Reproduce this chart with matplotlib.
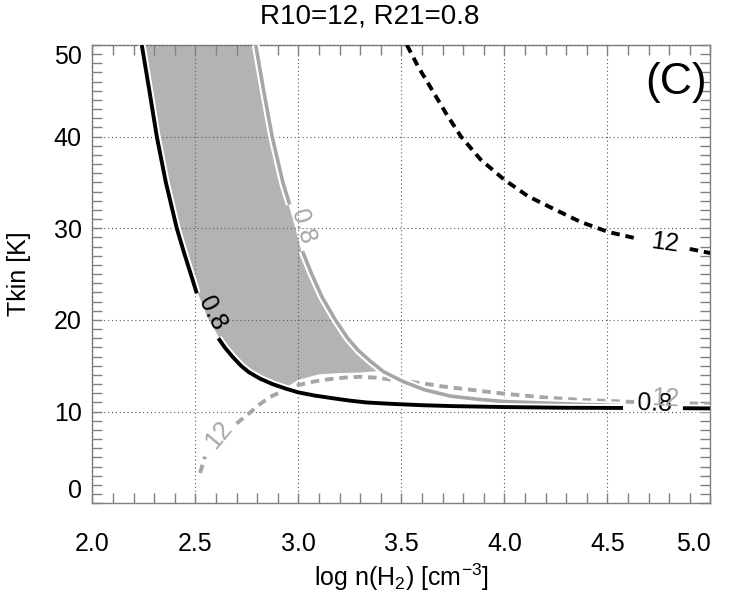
import numpy as np
import matplotlib.pyplot as plt
import matplotlib.patheffects as pe
from matplotlib.ticker import MultipleLocator

plt.rcParams['font.family'] = ['Liberation Sans', 'DejaVu Sans']
plt.rcParams['mathtext.fontset'] = 'custom'
plt.rcParams['mathtext.rm'] = 'Liberation Sans'
plt.rcParams['mathtext.default'] = 'regular'

# R21 = 0.8 contour (black solid), log n(H2) vs Tkin
r21_blk_x = [2.24, 2.277, 2.313, 2.357, 2.41, 2.443, 2.478, 2.507, 2.555, 2.612, 2.643,
             2.68, 2.722, 2.76, 2.814, 2.875, 2.94, 3.0, 3.08, 3.17, 3.25, 3.33, 3.45,
             3.6, 3.75, 4.0, 4.3, 4.576, 4.72, 4.867, 5.0]
r21_blk_y = [50, 45, 40, 35, 30, 27.5, 25, 22.9, 20.2, 18.0, 17.0,
             16.0, 15.0, 14.3, 13.6, 13.0, 12.5, 12.1, 11.75, 11.45, 11.2, 11.0, 10.85,
             10.7, 10.6, 10.5, 10.42, 10.4, 10.38, 10.37, 10.35]

# R21 = 0.8 contour (grey solid)
r21_gry_x = [2.793, 2.832, 2.873, 2.925, 2.958, 2.99, 3.02, 3.065, 3.115, 3.18, 3.24,
             3.29, 3.35, 3.413, 3.51, 3.61, 3.737, 3.87, 4.0, 4.3, 4.57]
r21_gry_y = [50, 45, 40, 35, 32.6, 30.1, 27.5, 25, 22.5, 20, 18,
             16.7, 15.5, 14.36, 13.27, 12.4, 11.7, 11.35, 11.1, 10.85, 10.65]

# R10 = 12 contour (black dashed)
r10_blk_x = [3.527, 3.585, 3.652, 3.718, 3.79, 3.885, 4.0, 4.115, 4.25, 4.37, 4.505,
             4.65, 4.78, 4.90, 5.0]
r10_blk_y = [50, 47.5, 45, 42.5, 40, 37.5, 35.3, 33.5, 32.0, 30.7, 29.6,
             28.85, 28.3, 27.75, 27.3]

# R10 = 12 contour (grey dashed)
r10_gry_x = [2.523, 2.547, 2.612, 2.70, 2.75, 2.806, 2.863, 2.93, 3.0, 3.08, 3.155, 3.23,
             3.30, 3.38, 3.5, 3.6, 3.7, 3.85, 4.0, 4.22, 4.4, 4.505, 4.63, 4.78, 4.90, 5.0]
r10_gry_y = [3.3, 5.1, 7.45, 8.7, 9.6, 10.7, 11.6, 12.3, 12.9, 13.3, 13.56, 13.72,
             13.8, 13.7, 13.35, 13.1, 12.75, 12.35, 11.95, 11.5, 11.25, 11.16, 11.05, 11.0,
             10.9, 10.83]

# lower edge of the shaded solution region
fill_bot_x = [2.94, 3.0, 3.1, 3.2, 3.3, 3.413]
fill_bot_y = [12.9, 13.35, 13.95, 14.1, 14.15, 14.36]

fig = plt.figure(figsize=(7.47, 6.0), dpi=100)
ax = fig.add_axes([0.1236, 0.1612, 0.8273, 0.7638])

grey = '#a6a6a6'
halo = [pe.Stroke(linewidth=5.6, foreground='white'), pe.Normal()]

# shaded region between the two 0.8 contours, above the grey 12 contour
px = r21_blk_x[:17] + fill_bot_x[1:] + r21_gry_x[:14][::-1]
py = r21_blk_y[:17] + fill_bot_y[1:] + r21_gry_y[:14][::-1]
ax.fill(px, py, facecolor='#b3b3b3', edgecolor='white', lw=1.5, zorder=1)


def seg_plot(x, y, parts, **kw):
    for a, b in parts:
        ax.plot(x[a:b], y[a:b], solid_capstyle='butt', zorder=3, **kw)


seg_plot(r10_gry_x, r10_gry_y, [(0, 2), (3, 23), (24, None)],
         color=grey, lw=2.8, ls=(0, (2.2, 1.5)))
seg_plot(r10_blk_x, r10_blk_y, [(0, 12), (13, None)],
         color='black', lw=2.8, ls=(0, (2.2, 1.5)))
seg_plot(r21_gry_x, r21_gry_y, [(0, 5), (6, None)],
         color=grey, lw=2.6, path_effects=halo)
seg_plot(r21_blk_x, r21_blk_y, [(0, 8), (9, 28), (29, None)],
         color='black', lw=2.8, path_effects=halo)

# contour labels
lab_kw = dict(ha='center', va='center', fontsize=18, zorder=4)
ax.text(2.58, 20.7, '0.8', rotation=-63, color='black', **lab_kw)
ax.text(3.02, 30.2, '0.8', rotation=-73, color=grey, **lab_kw)
ax.text(4.73, 10.9, '0.8', rotation=-2, color='black', **lab_kw)
ax.text(4.78, 11.4, '12', rotation=-3, color=grey, **lab_kw)
ax.text(4.78, 28.4, '12', rotation=-8, color='black', **lab_kw)
ax.text(2.612, 7.45, '12', rotation=50, color=grey, **lab_kw)

ax.text(4.835, 45.9, '(C)', fontsize=32, ha='center', va='center',
        color='black', zorder=4)

ax.set_xlim(2.0, 5.0)
ax.set_ylim(0, 50)
ax.set_xticks([2.0, 2.5, 3.0, 3.5, 4.0, 4.5, 5.0])
ax.set_yticks([0, 10, 20, 30, 40, 50])
ax.xaxis.set_minor_locator(MultipleLocator(0.1))
ax.yaxis.set_minor_locator(MultipleLocator(1))
ax.tick_params(which='both', direction='in', top=True, right=True,
               length=7, width=1, color='0.5', labelsize=18)
ax.tick_params(axis='x', pad=21)
ax.tick_params(axis='y', pad=7.6)
for s in ax.spines.values():
    s.set_color('0.5')
    s.set_linewidth(1)

ylabs = ax.get_yticklabels()
ylabs[0].set_va('bottom')
ylabs[-1].set_va('top')
ax.get_xticklabels()[-1].set_ha('right')

ax.set_axisbelow(False)
ax.grid(True, which='major', ls=(0, (1, 2.5)), lw=0.8, color='0.35')

ax.set_xlabel('log n(H$_2$) [cm$^{-3}$]', fontsize=18, va='top')
ax.xaxis.set_label_coords(0.5, -0.128)
ax.set_ylabel('Tkin [K]', fontsize=18)
ax.yaxis.set_label_coords(-0.10, 0.5)

fig.text(0.495, 0.972, 'R10=12, R21=0.8', fontsize=20, ha='center', va='center')

fig.savefig('out.png', dpi=100)
